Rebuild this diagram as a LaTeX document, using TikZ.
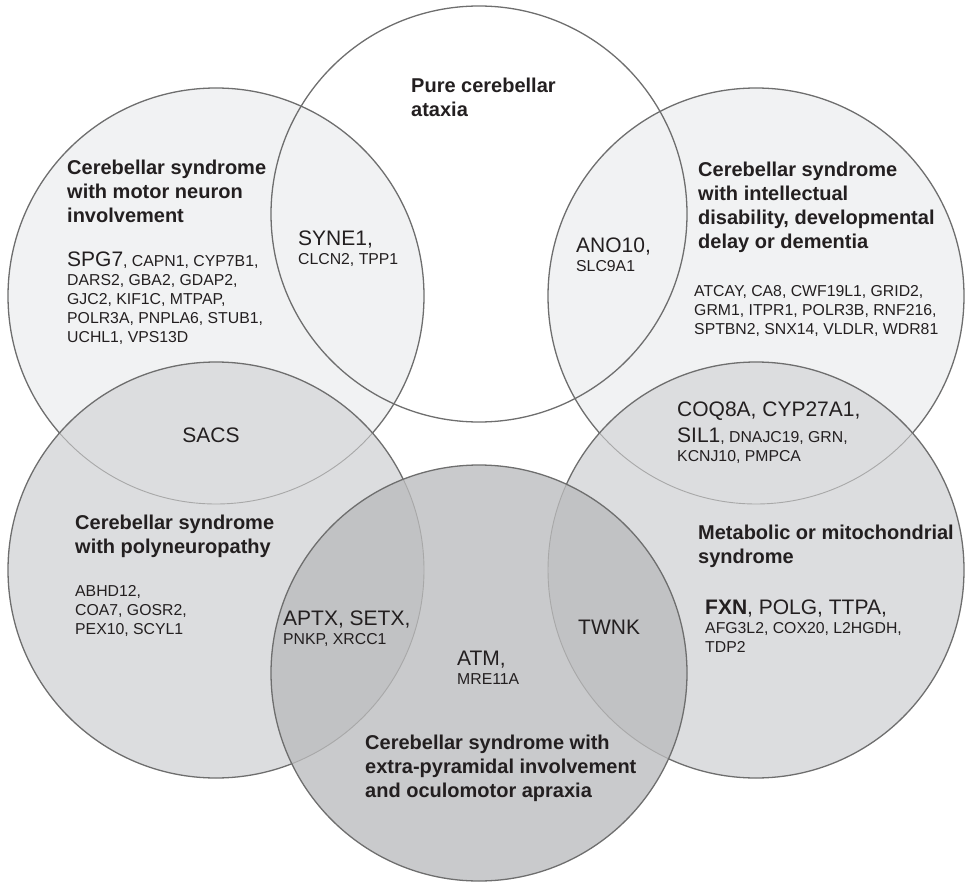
\documentclass[tikz,border=0pt]{standalone}
\usepackage{fontspec}
\setmainfont{Liberation Sans}
\usepackage{xcolor}

\definecolor{ringline}{HTML}{6E6E6E}
\definecolor{faintline}{HTML}{A8A8A8}
\definecolor{paleFill}{HTML}{F1F2F3}
\definecolor{midFill}{HTML}{DCDDDF}
\definecolor{darkFill}{HTML}{C9CACC}
\definecolor{bothFill}{HTML}{C1C2C4}
\definecolor{inkText}{HTML}{231F20}

\newcommand{\biggene}[1]{{\fontsize{21}{19}\selectfont #1}}

\begin{document}
\begin{tikzpicture}[x=1pt, y=-1pt,
	ring/.style={draw=ringline, line width=1.3pt},
	faint/.style={draw=faintline, line width=0.9pt},
	heading/.style={anchor=north west, inner sep=0pt, align=left, text=inkText,
		font=\fontsize{20}{24}\selectfont\bfseries},
	genes/.style={anchor=north west, inner sep=0pt, align=left, text=inkText,
		font=\fontsize{15.8}{19}\selectfont}]
			\useasboundingbox (0,0) rectangle (965,882);
			
			\def\r{208};
			
			\coordinate (pure) at (479,214);
			\coordinate (motor) at (216,296);
			\coordinate (intel) at (756,296);
			\coordinate (poly) at (216,570);
			\coordinate (meta) at (756,570);
			\coordinate (extra) at (479,673);
			
			%pale circles and the open one on top
			\fill[paleFill] (motor) circle [radius = \r];
			\fill[paleFill] (intel) circle [radius = \r];
			\draw[ring] (motor) circle [radius = \r];
			\draw[ring] (intel) circle [radius = \r];
			\draw[ring] (pure) circle [radius = \r];
			
			%middle row
			\fill[midFill] (poly) circle [radius = \r];
			\fill[midFill] (meta) circle [radius = \r];
			\begin{scope}
				\clip (poly) circle [radius = \r];
				\draw[faint] (motor) circle [radius = \r];
			\end{scope}
			\begin{scope}
				\clip (meta) circle [radius = \r];
				\draw[faint] (intel) circle [radius = \r];
			\end{scope}
			\draw[ring] (poly) circle [radius = \r];
			\draw[ring] (meta) circle [radius = \r];
			
			%bottom circle, darker where it meets the middle row
			\fill[darkFill] (extra) circle [radius = \r];
			\begin{scope}
				\clip (extra) circle [radius = \r];
				\fill[bothFill] (poly) circle [radius = \r];
				\fill[bothFill] (meta) circle [radius = \r];
				\draw[faint] (poly) circle [radius = \r];
				\draw[faint] (meta) circle [radius = \r];
			\end{scope}
			\draw[ring] (extra) circle [radius = \r];
			
			%labels
			\node[heading] (pureT) at (411,78) {Pure cerebellar\\ataxia};
			\node[heading] (motorT) at (67,160) {Cerebellar syndrome\\with motor neuron\\involvement};
			\node[genes] (motorG) at (67,252) {\biggene{SPG7}, CAPN1, CYP7B1,\\DARS2, GBA2, GDAP2,\\GJC2, KIF1C, MTPAP,\\POLR3A, PNPLA6, STUB1,\\UCHL1, VPS13D};
			\node[heading] (intelT) at (698,162) {Cerebellar syndrome\\with intellectual\\disability, developmental\\delay or dementia};
			\node[genes] (intelG) at (694,285) {ATCAY, CA8, CWF19L1, GRID2,\\GRM1, ITPR1, POLR3B, RNF216,\\SPTBN2, SNX14, VLDLR, WDR81};
			\node[genes] (syne) at (298,231) {\biggene{SYNE1,}\\CLCN2, TPP1};
			\node[genes] (ano) at (576,238) {\biggene{ANO10,}\\SLC9A1};
			\node[genes] (coq) at (677,402) {\biggene{COQ8A, CYP27A1,}\\[7pt]\biggene{SIL1}, DNAJC19, GRN,\\KCNJ10, PMPCA};
			\node[genes, anchor=base] (sacs) at (211,442) {\biggene{SACS}};
			\node[heading] (polyT) at (75,515) {Cerebellar syndrome\\with polyneuropathy};
			\node[genes] (polyG) at (75,585) {ABHD12,\\COA7, GOSR2,\\PEX10, SCYL1};
			\node[heading] (metaT) at (698,525) {Metabolic or mitochondrial\\syndrome};
			\node[genes] (metaG) at (705,600) {\biggene{\textbf{FXN}, POLG, TTPA,}\\AFG3L2, COX20, L2HGDH,\\TDP2};
			\node[genes] (aptx) at (283,611) {\biggene{APTX, SETX,}\\PNKP, XRCC1};
			\node[genes, anchor=base west] (twnk) at (578,634) {\biggene{TWNK}};
			\node[genes] (atm) at (457,651) {\biggene{ATM,}\\MRE11A};
			\node[heading] (extraT) at (365,735) {Cerebellar syndrome with\\extra-pyramidal involvement\\and oculomotor apraxia};
		\end{tikzpicture}
\end{document}
